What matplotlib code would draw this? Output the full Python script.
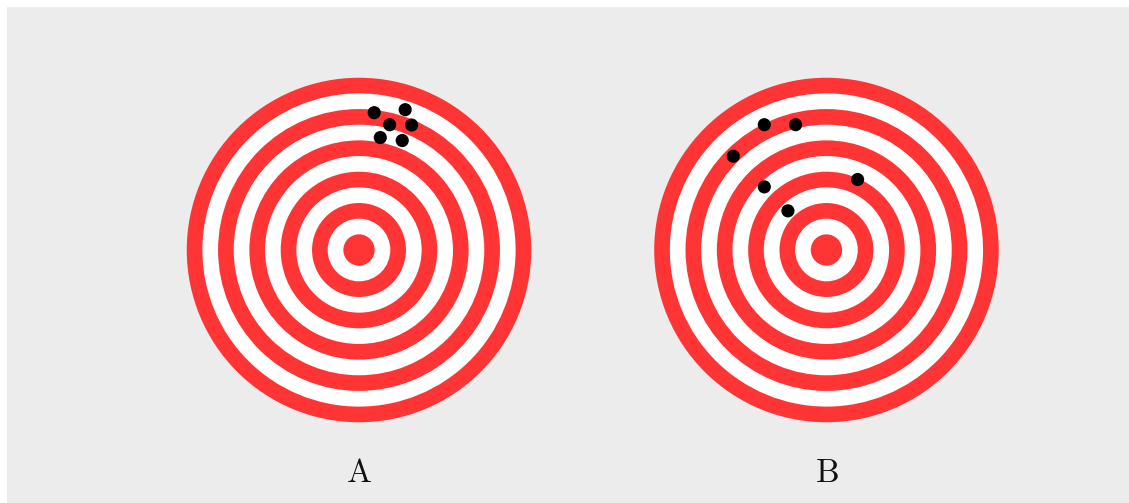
import matplotlib
matplotlib.use('Agg')
import matplotlib.pyplot as plt
from matplotlib.patches import Circle

plt.rcParams['mathtext.fontset'] = 'cm'

# target layout (ring width = 1 unit)
n_rings = 11
labels = ['A', 'B']
centers_x = [0.0, 29.85]

# shots, relative to each target centre
shots_a_x = [0.97, 2.95, 1.96, 3.36, 1.36, 2.76]
shots_a_y = [8.77, 8.96, 8.00, 7.98, 7.18, 6.99]
shots_b_x = [-3.97, -1.97, -5.95, 1.99, -3.97, -2.46]
shots_b_y = [8.00, 8.00, 5.99, 4.50, 4.03, 2.50]

red = '#ff3535'
W, H = 1129, 503
fig = plt.figure(figsize=(W / 100, H / 100), dpi=100, facecolor='white')
ax = fig.add_axes([7 / W, 0, 1 - 7 / W, (H - 7) / H])
ax.set_facecolor('#ececec')

unit = 15.66
ax.set_xlim((7 - 359) / unit, (W - 359) / unit)
ax.set_ylim(-(H - 250) / unit, (250 - 7) / unit)
ax.set_aspect('equal', adjustable='box')

for cx, lab in zip(centers_x, labels):
    for r in range(n_rings, 0, -1):
        color = red if r % 2 == 1 else 'white'
        ax.add_patch(Circle((cx, 0), r, facecolor=color, edgecolor='none'))
    ax.text(cx, -14.2, r'$\mathrm{%s}$' % lab, fontsize=24,
            ha='center', va='center', color='#111111')

for cx, xs, ys in [(centers_x[0], shots_a_x, shots_a_y),
                   (centers_x[1], shots_b_x, shots_b_y)]:
    for x, y in zip(xs, ys):
        ax.add_patch(Circle((cx + x, y), 0.42, facecolor='black',
                            edgecolor='none', zorder=3))

ax.set_xticks([])
ax.set_yticks([])
for s in ax.spines.values():
    s.set_visible(False)

fig.savefig('out.png', dpi=100, facecolor='white')
